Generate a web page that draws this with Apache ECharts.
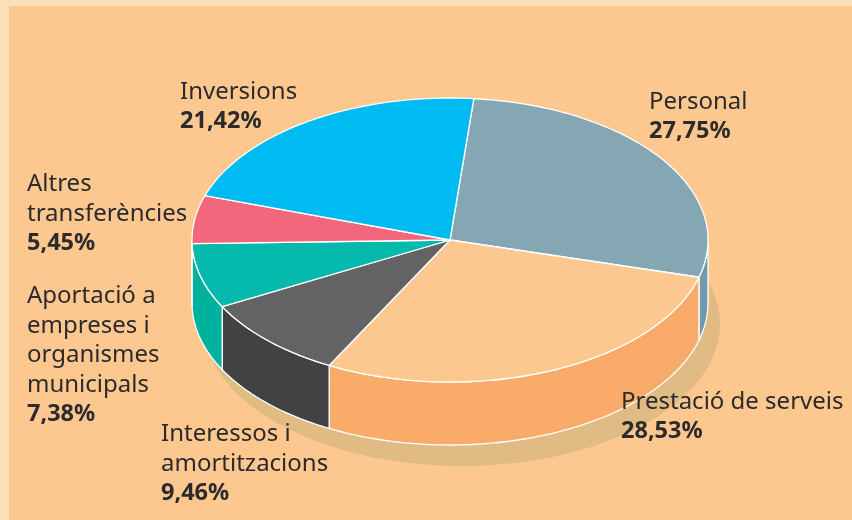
<!DOCTYPE html>
<html>
<head>
<meta charset="utf-8">
<style>
html, body { margin: 0; padding: 0; background: #fde0bb; }
#main { width: 852px; height: 520px; }
</style>
<script src="https://cdn.jsdelivr.net/npm/echarts@6/dist/echarts.min.js"></script>
</head>
<body>
<div id="main"></div>
<script>
// dades del gràfic, en sentit horari des de dalt
var categories = ['Personal', 'Prestació de serveis', 'Interessos i\namortitzacions',
    'Aportació a\nempreses i\norganismes\nmunicipals', 'Altres\ntransferències', 'Inversions'];
var values = [27.75, 28.53, 9.46, 7.38, 5.45, 21.42];

var topColors = ['#85a7b3', '#fcc88f', '#636365', '#05b9ad', '#f2677c', '#00baf2'];
var sideColors = ['#7099aa', '#faab69', '#414244', '#00b29e', '#f2677c', '#00baf2'];
var labelPos = [[649, 87], [621, 387.5], [161, 419.5], [27, 281.5], [27, 169.5], [180, 77.5]];

// geometria de l'el·lipse
var cx = 450, cy = 240, rx = 258, ry = 142, depth = 63;
var startAngle = 5.3;
var total = 0;
values.forEach(function (v) { total += v; });

function point(deg, dy) {
    var r = deg * Math.PI / 180;
    return [cx + rx * Math.sin(r), cy + (dy || 0) - ry * Math.cos(r)];
}
function arc(from, to, dy) {
    var pts = [];
    var n = Math.max(2, Math.ceil(Math.abs(to - from) / 1.5));
    for (var i = 0; i <= n; i++) {
        pts.push(point(from + (to - from) * i / n, dy));
    }
    return pts;
}
function sliceAngles(index) {
    var sum = 0;
    for (var i = 0; i < index; i++) sum += values[i];
    return [startAngle + sum / total * 360, startAngle + (sum + values[index]) / total * 360];
}

function renderSide(params, api) {
    var a = sliceAngles(params.dataIndex);
    var from = Math.max(a[0], 90), to = Math.min(a[1], 270);
    if (to <= from) return null;
    var pts = arc(from, to, 0).concat(arc(to, from, depth));
    return {
        type: 'polygon',
        shape: { points: pts },
        style: { fill: sideColors[params.dataIndex], stroke: '#fff', lineWidth: 1.3 }
    };
}
function renderTop(params, api) {
    var a = sliceAngles(params.dataIndex);
    var pts = [[cx, cy]].concat(arc(a[0], a[1], 0));
    return {
        type: 'polygon',
        shape: { points: pts },
        style: { fill: topColors[params.dataIndex], stroke: '#fff', lineWidth: 1.3, lineJoin: 'round' }
    };
}
function renderShadow(params, api) {
    return {
        type: 'ellipse',
        shape: { cx: cx + 12, cy: cy + 84, rx: rx, ry: ry },
        style: { fill: '#e0bc84' }
    };
}
function renderLabel(params, api) {
    var i = params.dataIndex;
    var lines = categories[i].split('\n').map(function (s) { return '{n|' + s + '}'; });
    lines.push('{b|' + values[i].toFixed(2).replace('.', ',') + '%}');
    return {
        type: 'text',
        style: {
            x: labelPos[i][0],
            y: labelPos[i][1],
            text: lines.join('\n'),
            rich: {
                n: { fontFamily: 'Noto Sans', fontSize: 24, lineHeight: 29.5, fill: '#2b2a2c', color: '#2b2a2c' },
                b: { fontFamily: 'Noto Sans', fontSize: 23.5, lineHeight: 29.5, fontWeight: 'bold', fill: '#2b2a2c', color: '#2b2a2c' }
            }
        }
    };
}

var myChart = echarts.init(document.getElementById('main'), null, { renderer: 'canvas' });
var option = {
    animation: false,
    backgroundColor: '#fde0bb',
    graphic: [{
        type: 'rect',
        z: 0,
        shape: { x: 9, y: 6, width: 843, height: 514 },
        style: { fill: '#fcc88f' }
    }],
    series: [
        { type: 'custom', coordinateSystem: 'none', silent: true, z: 2, renderItem: renderShadow, data: [0] },
        { type: 'custom', coordinateSystem: 'none', silent: true, z: 3, renderItem: renderSide, data: values },
        { type: 'custom', coordinateSystem: 'none', silent: true, z: 4, renderItem: renderTop, data: values },
        { type: 'custom', coordinateSystem: 'none', silent: true, z: 5, renderItem: renderLabel, data: values }
    ]
};
myChart.setOption(option);
</script>
</body>
</html>
